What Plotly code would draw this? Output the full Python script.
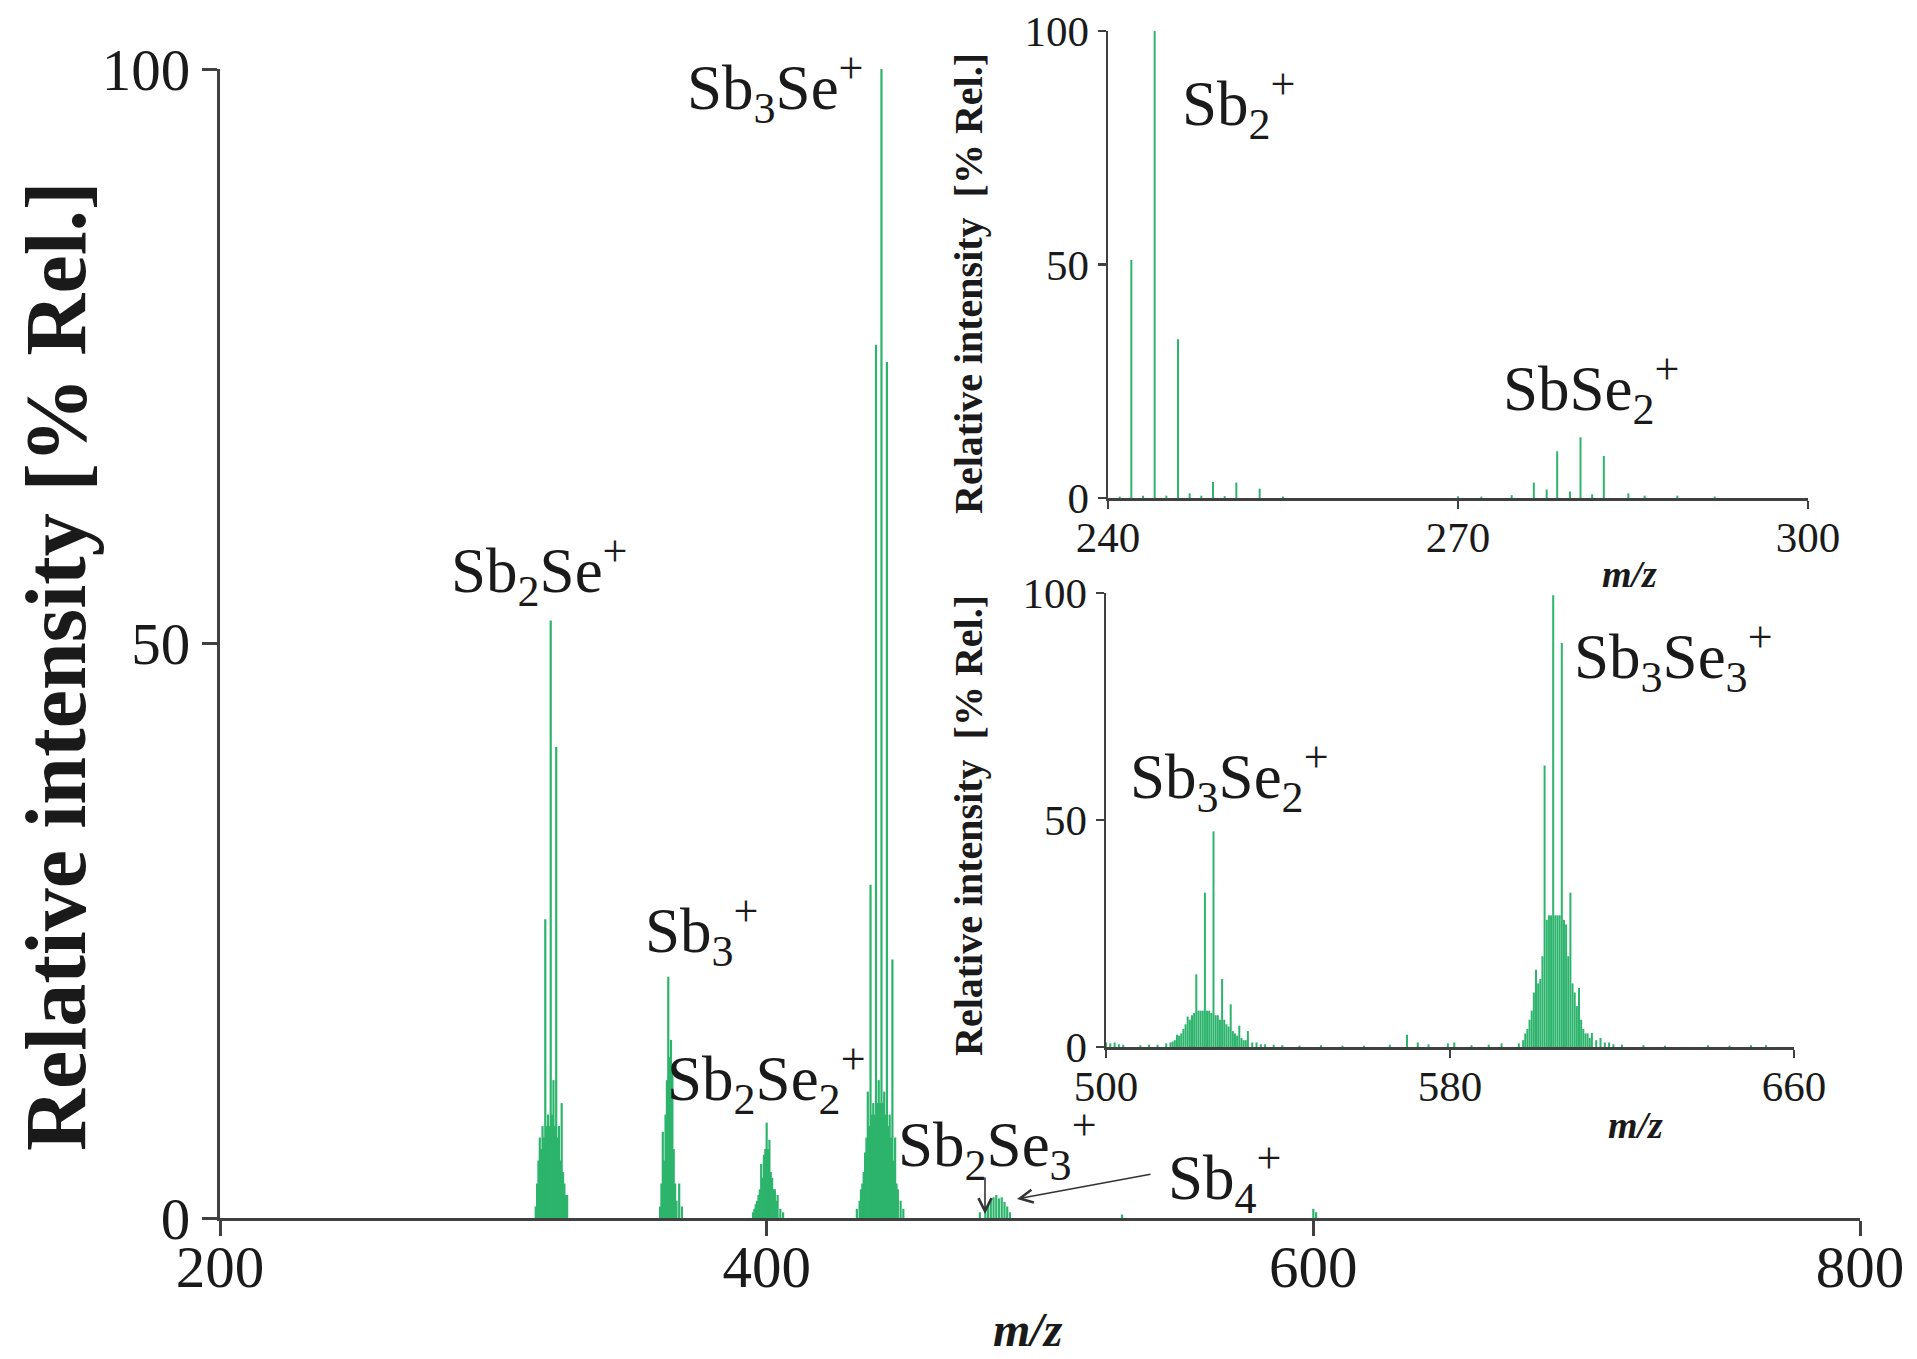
import plotly.graph_objects as go

W, H = 1917, 1359

# ---------------- data (m/z, relative intensity %) ----------------
main_mz = [315.5, 316, 316.5, 317, 317.5, 318, 318.5, 319, 319.5, 320, 320.5, 321, 321.5, 322, 322.5,
           323, 323.5, 324, 324.5, 325, 325.5, 326, 326.5, 327,
           361, 361.5, 362, 362.5, 363, 363.5, 364, 364.5, 365, 365.5, 366, 366.5, 367, 368, 369,
           395, 395.5, 396, 396.5, 397, 397.5, 398, 398.5, 399, 399.5, 400, 400.5, 401, 401.5, 402,
           402.5, 403, 403.5, 404, 405, 406,
           433, 434, 434.5, 435, 435.5, 436, 436.5, 437, 437.5, 438, 438.5, 439, 439.5, 440, 440.5,
           441, 441.5, 442, 442.5, 443, 443.5, 444, 444.5, 445, 445.5, 446, 446.5, 447, 447.5, 448,
           449, 450,
           478, 480, 481, 482, 483, 484, 485, 486, 487, 488, 489, 530, 600, 601]
main_int = [1, 3, 5, 7, 6, 8, 7, 26, 8, 9, 8, 52, 9, 12, 8,
            41, 7, 8, 5, 10, 4, 3, 2, 2,
            1, 3, 7.5, 5, 9, 12, 21, 14, 15.5, 13, 6, 3, 1.5, 3, 1,
            0.5, 0.8, 1.2, 1.5, 2, 2.5, 4.7, 3.5, 5.5, 6, 8.3, 6, 6.8, 4, 3.5,
            2.5, 2.5, 1.5, 2, 0.8, 0.5,
            0.8, 1.5, 2.5, 3, 4, 5.7, 7, 11, 8, 29, 9, 10, 9, 76, 10,
            12, 10, 100, 10, 11, 9, 74.5, 8, 9, 7, 22.5, 5, 7, 3, 2.5,
            1.5, 0.8,
            0.5, 1, 1.2, 1.5, 1.8, 2, 1.7, 1.8, 1.4, 1, 0.5, 0.3, 0.8, 0.5]

inset1_mz = [241, 242, 243, 244, 245, 246, 247, 248, 249, 250, 251, 253, 255,
             270, 272, 274.6, 276.5, 277.6, 278.5, 279.6, 280.5, 281.5, 282.5, 284.6, 286, 288.8, 292]
inset1_int = [0.3, 51, 0.5, 100, 0.5, 34, 1, 0.5, 3.4, 0.4, 3.3, 2, 0.3,
              0.4, 0.3, 0.6, 3.3, 1.8, 10, 1.4, 13, 0.8, 9, 1, 0.5, 0.5, 0.3]

inset2_mz = [500, 501, 502, 503, 504, 508, 510, 512, 514, 515, 515.5, 516, 516.5, 517, 517.5, 518,
             518.5, 519, 519.5, 520, 520.5, 521, 521.5, 522, 522.5, 523, 523.5, 524, 524.5, 525,
             525.5, 526, 526.5, 527, 527.5, 528, 528.5, 529, 529.5, 530, 530.5, 531, 531.5, 532,
             532.5, 533, 534, 535, 536, 537, 539, 541, 545, 550, 555, 560, 566, 570, 572.5, 575,
             579.5, 581, 585, 589, 592,
             596, 597, 597.5, 598, 598.5, 599, 599.5, 600, 600.5, 601, 601.5, 602, 602.5, 603, 603.5,
             604, 604.5, 605, 605.5, 606, 606.5, 607, 607.5, 608, 608.5, 609, 609.5, 610, 610.5, 611,
             611.5, 612, 612.5, 613, 614, 615, 616, 617, 618, 620, 625, 630, 640, 645, 650, 653.5]
inset2_int = [1, 0.8, 1, 0.6, 0.5, 0.4, 0.5, 0.5, 0.8, 1, 1.2, 1.5, 2.7, 2.5, 3, 4,
              5, 6.7, 6, 7, 7.5, 16, 8, 8, 8, 34, 8, 8, 7.5, 47.5,
              7, 7, 6, 15, 6, 5, 4.5, 9.4, 3.5, 3, 2.5, 4.7, 2, 1.5,
              1.5, 3.5, 1, 1, 0.6, 0.6, 0.5, 0.4, 0.3, 0.4, 0.3, 0.3, 0.5, 2.7, 1, 0.6,
              0.8, 1, 0.4, 0.5, 0.8,
              0.8, 1.5, 3, 4, 6, 8, 12, 17, 14, 15, 20, 62, 28, 29, 29,
              99.5, 29, 29, 29, 89, 28, 27, 20, 34, 14, 12, 9, 13, 6, 4,
              3, 3, 2, 3.1, 1.5, 2, 1, 1, 0.6, 0.5, 0.4, 0.3, 0.4, 0.3, 0.4, 0.4]

main_xticks = [200, 400, 600, 800]
inset1_xticks = [240, 270, 300]
inset2_xticks = [500, 580, 660]
yticks = [0, 50, 100]

GREEN = "#2db46c"
AXIS = "#404040"
TXT = "#1a1a1a"
SERIF = "Liberation Serif"


def px(x):
    return x / W


def py(y):
    return 1 - y / H


def sticks(mz, inten):
    xs, ys = [], []
    for m, v in zip(mz, inten):
        xs += [m, m, None]
        ys += [0, v, None]
    return xs, ys


fig = go.Figure()
for (mz, it, xa, ya, lw) in [(main_mz, main_int, "x", "y", 2.2),
                             (inset1_mz, inset1_int, "x2", "y2", 2.0),
                             (inset2_mz, inset2_int, "x3", "y3", 2.0)]:
    xs, ys = sticks(mz, it)
    fig.add_trace(go.Scatter(x=xs, y=ys, mode="lines", xaxis=xa, yaxis=ya,
                             line=dict(color=GREEN, width=lw),
                             hoverinfo="skip", showlegend=False))


def ax(domain, rng, tickvals, anchor, fs, lw, tl, standoff=0):
    return dict(domain=domain, range=rng, tickvals=tickvals,
                ticktext=[str(t) for t in tickvals], anchor=anchor,
                showgrid=False, zeroline=False, showline=True, linecolor=AXIS,
                linewidth=lw, ticks="outside", ticklen=tl, tickwidth=lw,
                tickcolor=AXIS, tickfont=dict(family=SERIF, size=fs, color=TXT),
                ticklabelstandoff=standoff,
                automargin=False, fixedrange=True)


fig.update_layout(
    template="none",
    width=W, height=H,
    autosize=False,
    margin=dict(l=0, r=0, t=0, b=0, pad=0, autoexpand=False),
    paper_bgcolor="white", plot_bgcolor="white",
    xaxis=ax([px(220), px(1860)], [200, 800], main_xticks, "y", 59, 3, 15, -20),
    yaxis=ax([py(1218), py(69)], [0, 100], yticks, "x", 59, 3, 15),
    xaxis2=ax([px(1108), px(1808)], [240, 300], inset1_xticks, "y2", 43, 2.5, 8, -8),
    yaxis2=ax([py(498), py(31)], [0, 100], yticks, "x2", 43, 2.5, 8),
    xaxis3=ax([px(1106), px(1794)], [500, 660], inset2_xticks, "y3", 43, 2.5, 8, -8),
    yaxis3=ax([py(1047), py(593)], [0, 100], yticks, "x3", 43, 2.5, 8),
)

annos = []


def label(text, x, y, size=63, anchor="left"):
    annos.append(dict(text=text, x=px(x), y=py(y), xref="paper", yref="paper",
                      xanchor=anchor, yanchor="middle", showarrow=False,
                      font=dict(family=SERIF, size=size, color=TXT)))


# ion labels (left edge, vertical centre)
label("Sb<sub>3</sub>Se<sup>+</sup>", 685, 88)
label("Sb<sub>2</sub>Se<sup>+</sup>", 449, 571)
label("Sb<sub>3</sub><sup>+</sup>", 643, 931)
label("Sb<sub>2</sub>Se<sub>2</sub><sup>+</sup>", 665, 1079)
label("Sb<sub>2</sub>Se<sub>3</sub><sup>+</sup>", 896, 1145)
label("Sb<sub>4</sub><sup>+</sup>", 1166, 1178)
label("Sb<sub>2</sub><sup>+</sup>", 1180, 105)
label("SbSe<sub>2</sub><sup>+</sup>", 1501, 389)
label("Sb<sub>3</sub>Se<sub>2</sub><sup>+</sup>", 1128, 777)
label("Sb<sub>3</sub>Se<sub>3</sub><sup>+</sup>", 1572, 657)

# axis titles
annos.append(dict(text="<b>Relative intensity [% Rel.]</b>", x=px(56), y=py(666),
                  xref="paper", yref="paper", textangle=-90, showarrow=False,
                  xanchor="center", yanchor="middle",
                  font=dict(family=SERIF, size=86, color=TXT)))
for yc in (284, 826):
    annos.append(dict(text="<b>Relative intensity  [% Rel.]</b>", x=px(968), y=py(yc),
                      xref="paper", yref="paper", textangle=-90, showarrow=False,
                      xanchor="center", yanchor="middle",
                      font=dict(family=SERIF, size=40, color=TXT)))
annos.append(dict(text="<b><i>m/z</i></b>", x=px(1028), y=py(1329), xref="paper", yref="paper",
                  showarrow=False, xanchor="center", yanchor="middle",
                  font=dict(family=SERIF, size=48, color=TXT)))
for (xc, yc) in [(1629, 574), (1635, 1125)]:
    annos.append(dict(text="<b><i>m/z</i></b>", x=px(xc), y=py(yc), xref="paper", yref="paper",
                      showarrow=False, xanchor="center", yanchor="middle",
                      font=dict(family=SERIF, size=38, color=TXT)))

# arrows
annos.append(dict(text="", x=px(1017), y=py(1199), xref="paper", yref="paper",
                  ax=135, ay=-25, showarrow=True, arrowhead=5, arrowsize=1.6,
                  arrowwidth=1.6, arrowcolor="#333333"))
annos.append(dict(text="", x=px(985), y=py(1214), xref="paper", yref="paper",
                  ax=0, ay=-38, showarrow=True, arrowhead=5, arrowsize=1.6,
                  arrowwidth=1.6, arrowcolor="#333333"))

fig.update_layout(annotations=annos)
fig.write_html("out.html",
               config={"displayModeBar": False, "staticPlot": True},
               post_script="document.body.style.margin='0';document.body.style.overflow='hidden';")
